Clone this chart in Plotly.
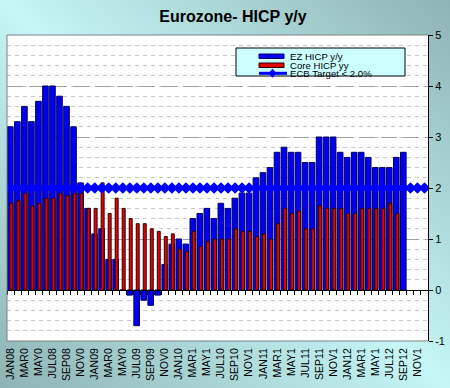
import plotly.graph_objects as go

# ---------------- data ----------------
months = [m + y for y in ["08", "09", "10", "11", "12"]
          for m in ["JAN", "FEB", "MAR", "APR", "MAY", "JUN",
                    "JUL", "AUG", "SEP", "OCT", "NOV", "DEC"]]

ez_hicp = [3.2, 3.3, 3.6, 3.3, 3.7, 4.0, 4.0, 3.8, 3.6, 3.2, 2.1, 1.6,
           1.1, 1.2, 0.6, 0.6, 0.0, -0.1, -0.7, -0.2, -0.3, -0.1, 0.5, 0.9,
           1.0, 0.9, 1.4, 1.5, 1.6, 1.4, 1.7, 1.6, 1.8, 1.9, 1.9, 2.2,
           2.3, 2.4, 2.7, 2.8, 2.7, 2.7, 2.5, 2.5, 3.0, 3.0, 3.0, 2.7,
           2.6, 2.7, 2.7, 2.6, 2.4, 2.4, 2.4, 2.6, 2.7, None, None, None]

core_hicp = [1.7, 1.75, 1.9, 1.65, 1.7, 1.8, 1.8, 1.9, 1.85, 1.9, 1.9, 1.6,
             1.6, 2.1, 1.5, 1.8, 1.6, 1.4, 1.3, 1.3, 1.2, 1.15, 1.05, 1.1,
             0.8, 0.75, 1.15, 0.85, 0.95, 1.0, 1.0, 1.0, 1.2, 1.15, 1.15, 1.05,
             1.1, 1.0, 1.3, 1.6, 1.5, 1.55, 1.2, 1.2, 1.65, 1.6, 1.6, 1.6,
             1.5, 1.5, 1.6, 1.6, 1.6, 1.6, 1.7, 1.5, None, None, None, None]

ecb_target = [2.0] * 60

x_tick_months = months[::2]
x_tick_labels = ["JAN08", "MAR0", "MAY0", "JUL08", "SEP08", "NOV0",
                 "JAN09", "MAR0", "MAY0", "JUL09", "SEP09", "NOV0",
                 "JAN10", "MAR1", "MAY1", "JUL10", "SEP10", "NOV1",
                 "JAN11", "MAR1", "MAY1", "JUL11", "SEP11", "NOV1",
                 "JAN12", "MAR1", "MAY1", "JUL12", "SEP12", "NOV1"]
y_tick_vals = [-1, 0, 1, 2, 3, 4, 5]
y_tick_labels = ["-1", "0", "1", "2", "3", "4", "5"]

legend_names = ["EZ HICP y/y", "Core HICP yy", "ECB Target < 2.0%"]

# ---------------- layout geometry ----------------
W, H = 450, 388
L, R, T, B = 7, 22, 35, 47
PW, PH = W - L - R, H - T - B
FONT = "Liberation Sans, Arial, sans-serif"
BLUE = "#0000EE"
RED = "#E60000"
RED_EDGE = "#2a0000"


def px(x):
    return (x - L) / PW


def py(y):
    return 1 - (y - T) / PH


fig = go.Figure()

fig.add_trace(go.Bar(x=months, y=ez_hicp, name=legend_names[0],
                     width=0.8, offset=-0.42,
                     marker=dict(color=BLUE, line=dict(color="#000066", width=1)),
                     showlegend=False))
fig.add_trace(go.Bar(x=months, y=core_hicp, name=legend_names[1],
                     width=0.42, offset=-0.08,
                     marker=dict(color=RED, line=dict(color=RED_EDGE, width=1)),
                     showlegend=False))
fig.add_trace(go.Scatter(x=months, y=ecb_target, name=legend_names[2],
                         mode="lines+markers",
                         line=dict(color="#0000FF", width=3),
                         marker=dict(symbol="diamond", size=9, color="#0000FF"),
                         showlegend=False))
# helper trace for the zero-line category axis
fig.add_trace(go.Scatter(x=months, y=[None] * 60, xaxis="x2", showlegend=False,
                         hoverinfo="skip"))

bg_svg = ("data:image/svg+xml;utf8,"
          "<svg xmlns='http://www.w3.org/2000/svg' width='450' height='388' preserveAspectRatio='none'>"
          "<defs><linearGradient id='g' x1='1' y1='0' x2='0' y2='1'>"
          "<stop offset='0' stop-color='%238EB3B3'/>"
          "<stop offset='0.5' stop-color='%23C6F6F6'/>"
          "<stop offset='1' stop-color='%238EB3B3'/>"
          "</linearGradient></defs>"
          "<rect width='450' height='388' fill='url(%23g)'/></svg>")

shapes = [
    # white plot area
    dict(type="rect", xref="paper", yref="paper", x0=0, x1=1, y0=0, y1=1,
         fillcolor="white", line=dict(width=0), layer="below"),
    # gray plot border (top, left, bottom)
    dict(type="path", xref="paper", yref="paper", path="M 1,1 L 0,1 L 0,0 L 1,0",
         line=dict(color="#808080", width=1), layer="above"),
    # legend box
    dict(type="rect", xref="paper", yref="paper", x0=px(236), x1=px(405),
         y0=py(76), y1=py(48), fillcolor="#CCFFFF",
         line=dict(color="black", width=1), layer="above"),
    dict(type="rect", xref="paper", yref="paper", x0=px(259), x1=px(284),
         y0=py(58.5), y1=py(54), fillcolor=BLUE,
         line=dict(color="#000066", width=1), layer="above"),
    dict(type="rect", xref="paper", yref="paper", x0=px(259), x1=px(284),
         y0=py(67.5), y1=py(63), fillcolor=RED,
         line=dict(color=RED_EDGE, width=1), layer="above"),
    dict(type="line", xref="paper", yref="paper", x0=px(259), x1=px(287),
         y0=py(73.3), y1=py(73.3), line=dict(color="#0000FF", width=3), layer="above"),
    dict(type="path", xref="paper", yref="paper",
         path=f"M {px(268.5)},{py(73.3)} L {px(272.5)},{py(68.8)} L {px(276.5)},{py(73.3)} "
              f"L {px(272.5)},{py(77.8)} Z",
         fillcolor="#0000FF", line=dict(color="#0000FF", width=0), layer="above"),
]

annotations = []
for name, yy in zip(legend_names, [56.2, 65.2, 73.6]):
    annotations.append(dict(text=name, xref="paper", yref="paper", x=px(287.5), y=py(yy),
                            xanchor="left", yanchor="middle", showarrow=False,
                            font=dict(family=FONT, size=9.6, color="black")))

fig.update_layout(
    width=W, height=H,
    margin=dict(l=L, r=R, t=T, b=B, pad=0, autoexpand=False),
    paper_bgcolor="#B0DADA",
    plot_bgcolor="rgba(0,0,0,0)",
    barmode="overlay",
    title=dict(text="<b>Eurozone- HICP y/y</b>", x=233 / W, xanchor="center",
               y=1 - 16 / H, yanchor="middle",
               font=dict(family=FONT, size=16, color="black")),
    images=[dict(source=bg_svg, xref="paper", yref="paper",
                 x=-L / PW, y=1 + T / PH, sizex=W / PW, sizey=H / PH,
                 xanchor="left", yanchor="top", sizing="stretch", layer="below")],
    shapes=shapes,
    annotations=annotations,
    xaxis=dict(type="category", categoryorder="array", categoryarray=months,
               range=[-0.5, 59.5], tickmode="array", tickvals=x_tick_months,
               ticktext=x_tick_labels, tickangle=-90,
               ticks="outside", ticklen=2, tickcolor="rgba(0,0,0,0)",
               tickfont=dict(family=FONT, size=10.5, color="black"),
               showgrid=False, showline=False, zeroline=False, fixedrange=True,
               automargin=False),
    xaxis2=dict(type="category", categoryorder="array", categoryarray=months,
                range=[-0.5, 59.5], overlaying="x", anchor="free",
                position=1 / 6, side="bottom",
                tickmode="array", tickvals=months, tickson="boundaries",
                ticks="outside", ticklen=4, tickcolor="black", tickwidth=1,
                showticklabels=False, showgrid=False, zeroline=False,
                showline=True, linecolor="black", linewidth=1),
    yaxis=dict(range=[-1, 5], side="right", tickmode="array",
               tickvals=y_tick_vals, ticktext=y_tick_labels,
               ticks="outside", ticklen=4, tickcolor="black",
               tickfont=dict(family=FONT, size=11, color="black"),
               showline=True, linecolor="black", linewidth=1,
               showgrid=True, gridcolor="#A0A0A0", gridwidth=1, griddash="16px,6px",
               zeroline=False, automargin=False,
               minor=dict(tickmode="linear", dtick=0.2, showgrid=True,
                          gridcolor="#C8C8C8", gridwidth=1, griddash="4px,4px",
                          ticks="")),
)

fig.write_html("out.html", config={"displayModeBar": False, "staticPlot": True},
               post_script="document.body.style.margin='0';document.body.style.padding='0';"
                           "document.documentElement.style.overflow='hidden';")
